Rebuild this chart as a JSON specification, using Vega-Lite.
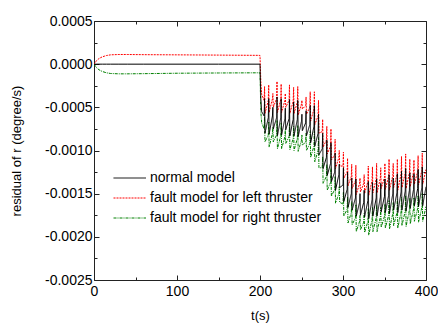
{
"$schema": "https://vega.github.io/schema/vega-lite/v6.json",
"autosize": "none",
"width": 332,
"height": 259,
"padding": {"left": 94, "top": 21, "right": 12, "bottom": 45},
"background": "white",
"config": {
  "view": {"stroke": "#222", "strokeWidth": 1},
  "font": "Liberation Sans",
  "axis": {"grid": false, "domain": false, "labelFontSize": 14, "labelColor": "#000", "titleFontSize": 13, "titleFontWeight": "normal", "titleColor": "#000", "tickColor": "#222", "labelFlush": false, "labelOverlap": false}
},
"data": {"values": [
{"t":0,"n":0,"l":0,"r":0},
{"t":3,"n":0,"l":0.00004,"r":-0.00004},
{"t":6,"n":0,"l":0.000065,"r":-0.000065},
{"t":10,"n":0,"l":0.000085,"r":-0.000085},
{"t":15,"n":0,"l":0.0001,"r":-0.0001},
{"t":20,"n":0,"l":0.000108,"r":-0.000108},
{"t":30,"n":0,"l":0.000112,"r":-0.000112},
{"t":40,"n":0,"l":0.000112,"r":-0.000112},
{"t":60,"n":0,"l":0.00011,"r":-0.00011},
{"t":100,"n":0,"l":0.000108,"r":-0.000105},
{"t":150,"n":0,"l":0.000105,"r":-0.000102},
{"t":199,"n":0,"l":0.000102,"r":-0.0001},
{"t":200,"n":0,"l":0.0001,"r":-0.0001},
{"t":201,"n":-0.0004,"l":-0.0002,"r":-0.00055},
{"t":202,"n":-0.00055,"l":-0.00035,"r":-0.00068},
{"t":205,"n":-0.0006,"l":-0.00042,"r":-0.00075},
{"t":205.5,"n":-0.0004,"l":-0.00026,"r":-0.00061},
{"t":206,"n":-0.0008,"l":-0.00057,"r":-0.0009},
{"t":210,"n":-0.00062,"l":-0.00042,"r":-0.00082},
{"t":210.5,"n":-0.0004,"l":-0.00024,"r":-0.00067},
{"t":211,"n":-0.00081,"l":-0.00056,"r":-0.00096},
{"t":215,"n":-0.0006,"l":-0.0004,"r":-0.0008},
{"t":215.5,"n":-0.0005,"l":-0.00034,"r":-0.00073},
{"t":216,"n":-0.00075,"l":-0.0005,"r":-0.0009},
{"t":220,"n":-0.00062,"l":-0.0004,"r":-0.00082},
{"t":220.5,"n":-0.00038,"l":-0.0002,"r":-0.00065},
{"t":221,"n":-0.00083,"l":-0.00056,"r":-0.00098},
{"t":225,"n":-0.00062,"l":-0.00041,"r":-0.00083},
{"t":225.5,"n":-0.0004,"l":-0.00023,"r":-0.00068},
{"t":226,"n":-0.00082,"l":-0.00056,"r":-0.00098},
{"t":230,"n":-0.00063,"l":-0.00042,"r":-0.00084},
{"t":230.5,"n":-0.00051,"l":-0.00034,"r":-0.00076},
{"t":231,"n":-0.00076,"l":-0.0005,"r":-0.00092},
{"t":235,"n":-0.00063,"l":-0.00042,"r":-0.00084},
{"t":235.5,"n":-0.00041,"l":-0.00024,"r":-0.00069},
{"t":236,"n":-0.00083,"l":-0.00057,"r":-0.00099},
{"t":240,"n":-0.00064,"l":-0.00043,"r":-0.00086},
{"t":240.5,"n":-0.00044,"l":-0.00027,"r":-0.00072},
{"t":241,"n":-0.00083,"l":-0.00057,"r":-0.001},
{"t":245,"n":-0.00064,"l":-0.00044,"r":-0.00086},
{"t":245.5,"n":-0.00042,"l":-0.00026,"r":-0.00071},
{"t":246,"n":-0.00084,"l":-0.00059,"r":-0.00101},
{"t":250,"n":-0.00066,"l":-0.00046,"r":-0.00088},
{"t":250.5,"n":-0.00058,"l":-0.00042,"r":-0.00082},
{"t":251,"n":-0.00077,"l":-0.00052,"r":-0.00094},
{"t":255,"n":-0.00068,"l":-0.00048,"r":-0.0009},
{"t":255.5,"n":-0.00054,"l":-0.00038,"r":-0.0008},
{"t":256,"n":-0.00083,"l":-0.00058,"r":-0.001},
{"t":260,"n":-0.0007,"l":-0.0005,"r":-0.00092},
{"t":260.5,"n":-0.00048,"l":-0.00032,"r":-0.00077},
{"t":261,"n":-0.00091,"l":-0.00066,"r":-0.00108},
{"t":265,"n":-0.00072,"l":-0.00052,"r":-0.00095},
{"t":265.5,"n":-0.00048,"l":-0.00032,"r":-0.00078},
{"t":266,"n":-0.00095,"l":-0.0007,"r":-0.00113},
{"t":270,"n":-0.0008,"l":-0.0006,"r":-0.001},
{"t":270.5,"n":-0.00058,"l":-0.00042,"r":-0.00085},
{"t":271,"n":-0.00105,"l":-0.0008,"r":-0.0012},
{"t":275,"n":-0.00098,"l":-0.00078,"r":-0.0012},
{"t":275.5,"n":-0.0008,"l":-0.00064,"r":-0.00107},
{"t":276,"n":-0.00121,"l":-0.00096,"r":-0.00138},
{"t":280,"n":-0.00108,"l":-0.00088,"r":-0.0013},
{"t":280.5,"n":-0.00088,"l":-0.00072,"r":-0.00116},
{"t":281,"n":-0.00129,"l":-0.00104,"r":-0.00146},
{"t":285,"n":-0.00115,"l":-0.00095,"r":-0.00137},
{"t":285.5,"n":-0.00091,"l":-0.00075,"r":-0.0012},
{"t":286,"n":-0.00136,"l":-0.00111,"r":-0.00153},
{"t":290,"n":-0.00125,"l":-0.00105,"r":-0.00145},
{"t":290.5,"n":-0.00103,"l":-0.00087,"r":-0.0013},
{"t":291,"n":-0.00146,"l":-0.00121,"r":-0.00161},
{"t":295,"n":-0.00128,"l":-0.00108,"r":-0.0015},
{"t":295.5,"n":-0.00116,"l":-0.001,"r":-0.00142},
{"t":296,"n":-0.00143,"l":-0.00118,"r":-0.0016},
{"t":300,"n":-0.0014,"l":-0.00118,"r":-0.00162},
{"t":300.5,"n":-0.0012,"l":-0.00102,"r":-0.00148},
{"t":301,"n":-0.00159,"l":-0.00132,"r":-0.00176},
{"t":305,"n":-0.00145,"l":-0.00125,"r":-0.00168},
{"t":305.5,"n":-0.00125,"l":-0.00109,"r":-0.00154},
{"t":306,"n":-0.00166,"l":-0.00141,"r":-0.00184},
{"t":310,"n":-0.0015,"l":-0.0013,"r":-0.00172},
{"t":310.5,"n":-0.00132,"l":-0.00116,"r":-0.00159},
{"t":311,"n":-0.00169,"l":-0.00144,"r":-0.00186},
{"t":315,"n":-0.00155,"l":-0.00135,"r":-0.00178},
{"t":315.5,"n":-0.00133,"l":-0.00117,"r":-0.00163},
{"t":316,"n":-0.00176,"l":-0.00151,"r":-0.00194},
{"t":320,"n":-0.0016,"l":-0.00138,"r":-0.00182},
{"t":320.5,"n":-0.0015,"l":-0.00132,"r":-0.00175},
{"t":321,"n":-0.00175,"l":-0.00148,"r":-0.00192},
{"t":325,"n":-0.0016,"l":-0.00138,"r":-0.00183},
{"t":325.5,"n":-0.00146,"l":-0.00128,"r":-0.00173},
{"t":326,"n":-0.00177,"l":-0.0015,"r":-0.00195},
{"t":330,"n":-0.00158,"l":-0.00136,"r":-0.00182},
{"t":330.5,"n":-0.00136,"l":-0.00118,"r":-0.00167},
{"t":331,"n":-0.00179,"l":-0.00152,"r":-0.00198},
{"t":335,"n":-0.00157,"l":-0.00135,"r":-0.0018},
{"t":335.5,"n":-0.00137,"l":-0.00119,"r":-0.00166},
{"t":336,"n":-0.00176,"l":-0.00149,"r":-0.00194},
{"t":340,"n":-0.00155,"l":-0.00133,"r":-0.00178},
{"t":340.5,"n":-0.00133,"l":-0.00115,"r":-0.00163},
{"t":341,"n":-0.00176,"l":-0.00149,"r":-0.00194},
{"t":345,"n":-0.00154,"l":-0.00132,"r":-0.00177},
{"t":345.5,"n":-0.00138,"l":-0.0012,"r":-0.00166},
{"t":346,"n":-0.00171,"l":-0.00144,"r":-0.00189},
{"t":350,"n":-0.00153,"l":-0.00131,"r":-0.00176},
{"t":350.5,"n":-0.00133,"l":-0.00115,"r":-0.00162},
{"t":351,"n":-0.00172,"l":-0.00145,"r":-0.0019},
{"t":355,"n":-0.00152,"l":-0.0013,"r":-0.00175},
{"t":355.5,"n":-0.00128,"l":-0.0011,"r":-0.00158},
{"t":356,"n":-0.00173,"l":-0.00146,"r":-0.00191},
{"t":360,"n":-0.0015,"l":-0.00129,"r":-0.00173},
{"t":360.5,"n":-0.00132,"l":-0.00115,"r":-0.0016},
{"t":361,"n":-0.00169,"l":-0.00143,"r":-0.00187},
{"t":365,"n":-0.00149,"l":-0.00128,"r":-0.00172},
{"t":365.5,"n":-0.00127,"l":-0.0011,"r":-0.00157},
{"t":366,"n":-0.00172,"l":-0.00146,"r":-0.0019},
{"t":370,"n":-0.00148,"l":-0.00127,"r":-0.00171},
{"t":370.5,"n":-0.00124,"l":-0.00107,"r":-0.00154},
{"t":371,"n":-0.00169,"l":-0.00143,"r":-0.00187},
{"t":375,"n":-0.00147,"l":-0.00126,"r":-0.0017},
{"t":375.5,"n":-0.00121,"l":-0.00104,"r":-0.00152},
{"t":376,"n":-0.0017,"l":-0.00144,"r":-0.00188},
{"t":380,"n":-0.00146,"l":-0.00126,"r":-0.00169},
{"t":380.5,"n":-0.00126,"l":-0.0011,"r":-0.00155},
{"t":381,"n":-0.00167,"l":-0.00142,"r":-0.00185},
{"t":385,"n":-0.00145,"l":-0.00125,"r":-0.00168},
{"t":385.5,"n":-0.00127,"l":-0.00111,"r":-0.00155},
{"t":386,"n":-0.00164,"l":-0.00139,"r":-0.00182},
{"t":390,"n":-0.00144,"l":-0.00124,"r":-0.00167},
{"t":390.5,"n":-0.00122,"l":-0.00106,"r":-0.00152},
{"t":391,"n":-0.00165,"l":-0.0014,"r":-0.00183},
{"t":395,"n":-0.00143,"l":-0.00123,"r":-0.00166},
{"t":395.5,"n":-0.00119,"l":-0.00103,"r":-0.00149},
{"t":396,"n":-0.00164,"l":-0.00139,"r":-0.00182},
{"t":400,"n":-0.00142,"l":-0.00122,"r":-0.00165}
]},
"transform": [{"fold": ["r", "l", "n"], "as": ["s", "v"]}],
"layer": [
  {
    "mark": {"type": "line", "strokeWidth": 1, "clip": true},
    "encoding": {
      "x": {"field": "t", "type": "quantitative", "scale": {"domain": [0, 400], "nice": false},
        "axis": {"orient": "bottom", "values": [0,50,100,150,200,250,300,350,400], "labelExpr": "datum.value % 100 === 0 ? datum.label : ''",
          "tickSize": {"condition": {"test": "datum.value % 100 === 0", "value": -5}, "value": -3},
          "labelPadding": 9, "title": "t(s)", "titlePadding": 9}},
      "y": {"field": "v", "type": "quantitative", "scale": {"domain": [-0.0025, 0.0005], "nice": false, "zero": false},
        "axis": {"orient": "left", "values": [-0.0025,-0.00225,-0.002,-0.00175,-0.0015,-0.00125,-0.001,-0.00075,-0.0005,-0.00025,0,0.00025,0.0005],
          "labelExpr": "abs(round(datum.value*10000)) % 5 === 0 ? replace(format(datum.value, '.4f'), '\u2212', '-') : ''",
          "tickSize": {"condition": {"test": "abs(round(datum.value*10000)) % 5 === 0", "value": -5}, "value": -3},
          "labelPadding": 7, "title": "residual of r (degree/s)", "titlePadding": 21}},
      "color": {"field": "s", "type": "nominal", "scale": {"domain": ["n", "l", "r"], "range": ["#000000", "#ff0000", "#008000"]},
        "legend": {"orient": "none", "legendX": 19, "legendY": 150, "title": null, "padding": 0, "symbolType": "M-1,0H4", "symbolSize": 169, "symbolStrokeWidth": 1, "labelFontSize": 14, "labelOffset": 23, "labelLimit": 0, "rowPadding": 6, "labelColor": "#000",
          "labelExpr": "datum.value === 'n' ? 'normal model' : datum.value === 'l' ? 'fault model for left thruster' : 'fault model for right thruster'"}},
      "strokeDash": {"field": "s", "type": "nominal", "scale": {"domain": ["n", "l", "r"], "range": [[1, 0], [2, 1], [3, 1, 1, 1]]},
        "legend": {"orient": "none", "legendX": 19, "legendY": 150, "title": null, "padding": 0, "symbolType": "M-1,0H4", "symbolSize": 169, "symbolStrokeWidth": 1, "labelFontSize": 14, "labelOffset": 23, "labelLimit": 0, "rowPadding": 6, "labelColor": "#000",
          "labelExpr": "datum.value === 'n' ? 'normal model' : datum.value === 'l' ? 'fault model for left thruster' : 'fault model for right thruster'"}}
    }
  },
  {
    "mark": {"type": "line", "strokeOpacity": 0, "clip": true},
    "encoding": {
      "x": {"field": "t", "type": "quantitative",
        "axis": {"orient": "top", "values": [0,50,100,150,200,250,300,350,400], "labels": false, "title": null,
          "tickSize": {"condition": {"test": "datum.value % 100 === 0", "value": -5}, "value": -3}}},
      "y": {"field": "v", "type": "quantitative",
        "axis": {"orient": "right", "values": [-0.0025,-0.00225,-0.002,-0.00175,-0.0015,-0.00125,-0.001,-0.00075,-0.0005,-0.00025,0,0.00025,0.0005], "labels": false, "title": null,
          "tickSize": {"condition": {"test": "abs(round(datum.value*10000)) % 5 === 0", "value": -5}, "value": -3}}},
      "detail": {"field": "s"}
    }
  }
],
"resolve": {"axis": {"x": "independent", "y": "independent"}}
}
